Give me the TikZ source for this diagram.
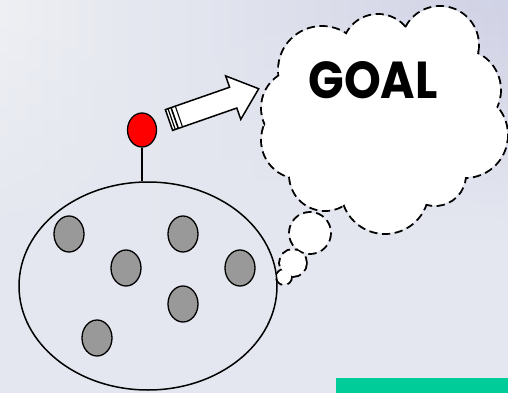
\documentclass[tikz,border=0pt]{standalone}
\usepackage{fontspec}
\usetikzlibrary{shapes.geometric,fadings}
\newfontfamily\goalfont{Poppins}
\begin{document}
\begin{tikzpicture}[x=1pt,y=-1pt,
  bigoval/.style={draw=black,line width=1.5pt},
  dot/.style={draw=black,line width=1.3pt,fill=dotgray},
  cloudedge/.style={draw=black,line width=3.8pt,dash pattern=on 8pt off 4.5pt},
  cloudfill/.style={fill=white,draw=none},
  arrowbody/.style={draw=black,line width=1.5pt,fill=white,line join=miter}]
\definecolor{bgbase}{HTML}{E5E7F0}
\definecolor{bgleft}{HTML}{EEF0F4}
\definecolor{bgright}{HTML}{D0D2E5}
\definecolor{dotgray}{HTML}{999999}
\definecolor{barGreen}{HTML}{00CC99}
\useasboundingbox (0,0) rectangle (508,393);
% background
\fill[bgbase] (0,0) rectangle (508,393);
\shade[left color=bgleft,right color=bgright,path fading=south] (0,0) rectangle (508,240);
\fill[barGreen] (336,378) rectangle (508,393);
% cloud circles: outline then fill
\foreach \cx/\cy/\r in {322/70/43, 378/50/35, 440/45/38, 460/90/40, 465/135/42,
  435/175/30, 385/190/43, 325/175/35, 300/140/38, 300/108/38, 380/120/70,
  310/233/20, 293/263/13, 284/277/7}
  {\path[cloudedge] (\cx,\cy) circle[radius=\r];}
\foreach \cx/\cy/\r in {322/70/43, 378/50/35, 440/45/38, 460/90/40, 465/135/42,
  435/175/30, 385/190/43, 325/175/35, 300/140/38, 300/108/38, 380/120/70,
  310/233/20, 293/263/13, 284/277/7}
  {\path[cloudfill] (\cx,\cy) circle[radius=\r];}
\node[font=\goalfont\bfseries\fontsize{52}{52}\selectfont,xscale=0.9,inner sep=0pt] (goal) at (373,80) {GOAL};
% big oval and dots
\node[bigoval,ellipse,minimum width=258pt,minimum height=208pt,inner sep=0pt] (group) at (148,286) {};
\node[dot,ellipse,minimum width=30pt,minimum height=36pt,inner sep=0pt] (d1) at (69,234) {};
\node[dot,ellipse,minimum width=30pt,minimum height=36pt,inner sep=0pt] (d2) at (183,234) {};
\node[dot,ellipse,minimum width=30pt,minimum height=36pt,inner sep=0pt] (d3) at (126,268) {};
\node[dot,ellipse,minimum width=30pt,minimum height=36pt,inner sep=0pt] (d4) at (240,268) {};
\node[dot,ellipse,minimum width=30pt,minimum height=36pt,inner sep=0pt] (d5) at (183,304) {};
\node[dot,ellipse,minimum width=30pt,minimum height=36pt,inner sep=0pt] (d6) at (97,338) {};
% leader
\node[draw=black,line width=1.3pt,fill=red,ellipse,minimum width=29pt,minimum height=34pt,inner sep=0pt] (leader) at (142,130) {};
\draw[line width=1.3pt] (leader.south) -- (group.north -| leader.south);
% block arrow
\begin{scope}[shift={(169,120)},rotate=19.2]
\draw[arrowbody] (0,-11) -- (68,-11) -- (68,-23) -- (95,0) -- (68,23) -- (68,11) -- (0,11) -- cycle;
\draw[line width=1.2pt] (2.8,-11) -- (2.8,11);
\draw[line width=1.6pt] (6,-11) -- (6,11);
\draw[line width=1.1pt] (10.5,-11) -- (10.5,11);
\end{scope}
\end{tikzpicture}
\end{document}
